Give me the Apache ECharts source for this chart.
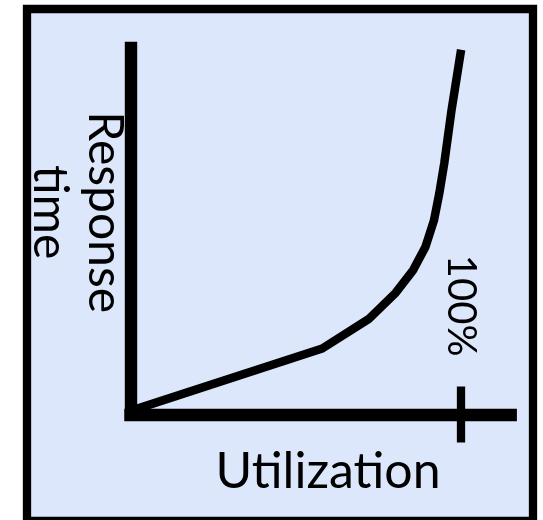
<!DOCTYPE html>
<html>
<head>
<meta charset="utf-8">
<script src="https://cdn.jsdelivr.net/npm/echarts@6/dist/echarts.min.js"></script>
<style>
  html, body { margin: 0; padding: 0; background: #ffffff; }
  #chart { width: 543px; height: 520px; }
</style>
</head>
<body>
<div id="chart"></div>
<script>
// Utilization (% of capacity) and relative response time
const utilization  = [0, 58, 72, 80, 85.5, 89.2, 91.8, 93.4, 94.9, 97.1, 100];
const responseTime = [1, 18, 26, 33, 39.4, 45.7, 53, 60.3, 68.5, 83, 99.5];
const xTickValues = [100];
const xAxisName = 'Utilization';
const yAxisName = 'Response\ntime';

const FONT = 'Lato, "Noto Sans", sans-serif';
const chart = echarts.init(document.getElementById('chart'), null, { renderer: 'canvas' });

chart.setOption({
  animation: false,
  backgroundColor: '#ffffff',
  graphic: [{
    type: 'rect',
    z: -10,
    silent: true,
    shape: { x: 27, y: 9, width: 506, height: 512 },
    style: { fill: '#dde7fc', stroke: '#000000', lineWidth: 8.3 }
  }],
  grid: { left: 130.5, right: 32.3, top: 47.9, bottom: 105.5, containLabel: false },
  xAxis: [{
    type: 'value', min: 0, max: 115, position: 'bottom',
    name: xAxisName, nameLocation: 'middle', nameGap: 32,
    nameTextStyle: { fontFamily: FONT, fontSize: 50, color: '#000', padding: [0, 0, 0, 15] },
    axisLine: { show: true, onZero: false, lineStyle: { color: '#000', width: 12.4, cap: 'square' } },
    axisTick: { show: true, inside: false, length: 28, customValues: xTickValues, lineStyle: { color: '#000', width: 8.3 } },
    axisLabel: { show: false },
    splitLine: { show: false }
  }, {
    type: 'value', min: 0, max: 115, position: 'bottom',
    axisLine: { show: false },
    axisTick: { show: true, inside: true, length: 28, customValues: xTickValues, lineStyle: { color: '#000', width: 8.3 } },
    axisLabel: { show: true, inside: true, rotate: -90, margin: 58, customValues: xTickValues,
      formatter: '{value}%', fontFamily: FONT, fontSize: 40, color: '#000' },
    splitLine: { show: false }
  }],
  yAxis: {
    type: 'value', min: 0, max: 100,
    name: yAxisName, nameLocation: 'middle', nameRotate: -90, nameGap: -1,
    nameTextStyle: { fontFamily: FONT, fontSize: 48, lineHeight: 55, color: '#000', padding: [0, 38, 0, 0] },
    axisLine: { show: true, lineStyle: { color: '#000', width: 12.4, cap: 'square' } },
    axisTick: { show: false },
    axisLabel: { show: false },
    splitLine: { show: false }
  },
  series: [{
    type: 'line',
    xAxisIndex: 0,
    clip: false,
    showSymbol: false,
    symbol: 'none',
    data: utilization.map((u, i) => [u, responseTime[i]]),
    lineStyle: { color: '#000', width: 8.5, join: 'round', cap: 'butt' },
    z: 3
  }]
});
</script>
</body>
</html>
